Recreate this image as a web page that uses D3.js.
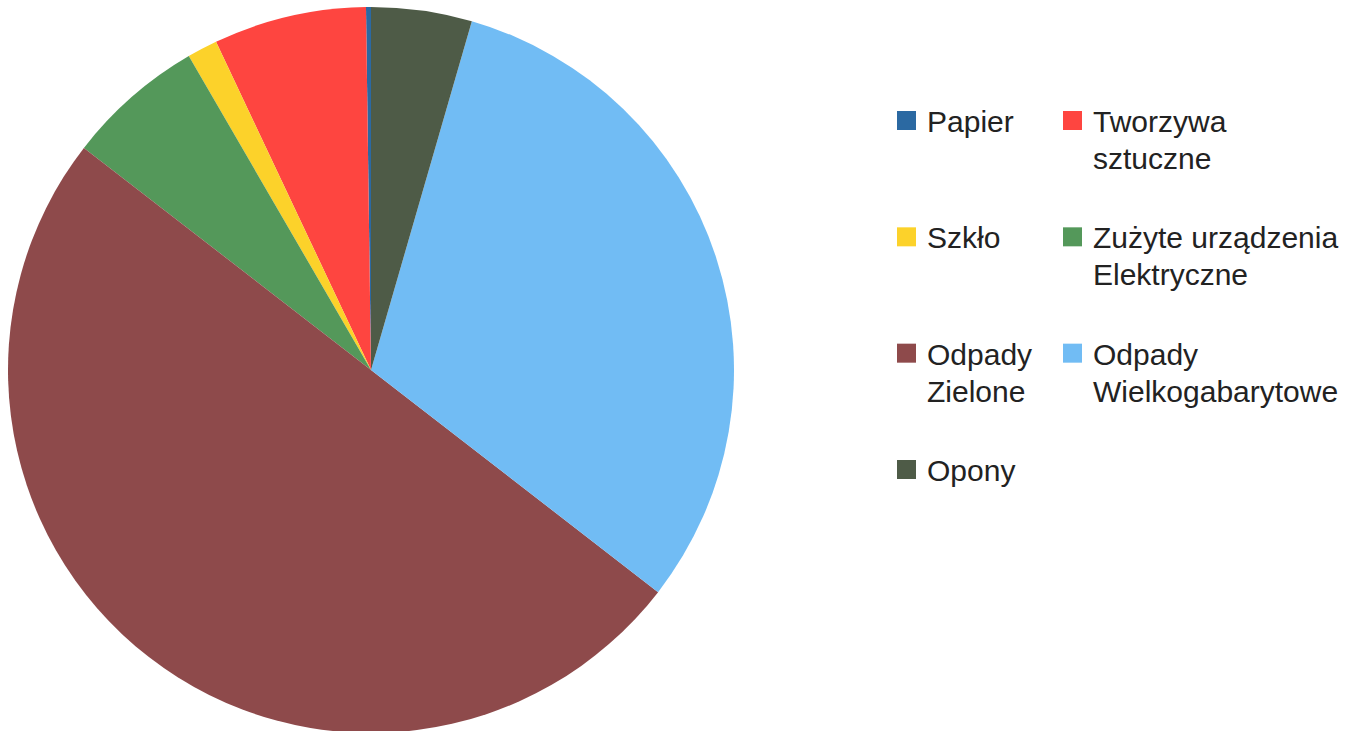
<!DOCTYPE html>
<html>
<head>
<meta charset="utf-8">
<script src="https://cdn.jsdelivr.net/npm/d3@7"></script>
<style>
  body { margin: 0; background: #fff; }
  svg { display: block; }
</style>
</head>
<body>
<div id="chart"></div>
<script>
// values in percent
var categories = ["Papier", "Tworzywa sztuczne", "Szkło", "Zużyte urządzenia Elektryczne", "Odpady Zielone", "Odpady Wielkogabarytowe", "Opony"];
var legendLines = [["Papier"], ["Tworzywa", "sztuczne"], ["Szkło"], ["Zużyte urządzenia", "Elektryczne"], ["Odpady", "Zielone"], ["Odpady", "Wielkogabarytowe"], ["Opony"]];
var values = [0.22, 6.8, 1.35, 6.15, 50.0, 31.0, 4.48];
var colors = ["#2b69a2", "#fe4540", "#fcd22a", "#54985a", "#8e4a4b", "#71bcf4", "#4e5b47"];

var width = 1363, height = 731;
var cx = 371, cy = 370, radius = 363;

var svg = d3.select("#chart").append("svg")
  .attr("width", width)
  .attr("height", height);

var data = categories.map(function(c, i) {
  return {name: c, value: values[i], color: colors[i], lines: legendLines[i]};
});

// counterclockwise from 12 o'clock
var pie = d3.pie()
  .sort(null)
  .value(function(d) { return d.value; })
  .startAngle(0)
  .endAngle(-2 * Math.PI);

var arc = d3.arc().innerRadius(0).outerRadius(radius);

svg.append("g")
  .attr("transform", "translate(" + cx + "," + cy + ")")
  .selectAll("path")
  .data(pie(data))
  .enter()
  .append("path")
  .attr("d", arc)
  .attr("fill", function(d) { return d.data.color; });

// legend, two columns
var colX = d3.scaleOrdinal().domain([0, 1]).range([897, 1063]);
var rowY = d3.scaleLinear().domain([0, 3]).range([132, 481]);

var items = svg.append("g").selectAll("g")
  .data(data)
  .enter()
  .append("g")
  .attr("transform", function(d, i) {
    return "translate(" + colX(i % 2) + "," + rowY(Math.floor(i / 2)) + ")";
  });

items.append("rect")
  .attr("x", 0)
  .attr("y", -21)
  .attr("width", 19)
  .attr("height", 19)
  .attr("fill", function(d) { return d.color; });

items.append("text")
  .attr("x", 30)
  .attr("y", 0)
  .style("font", "30px 'Liberation Sans', Arial, sans-serif")
  .style("fill", "#222")
  .selectAll("tspan")
  .data(function(d) { return d.lines; })
  .enter()
  .append("tspan")
  .attr("x", 30)
  .attr("dy", function(d, i) { return i == 0 ? 0 : 37; })
  .text(function(d) { return d; });
</script>
</body>
</html>
